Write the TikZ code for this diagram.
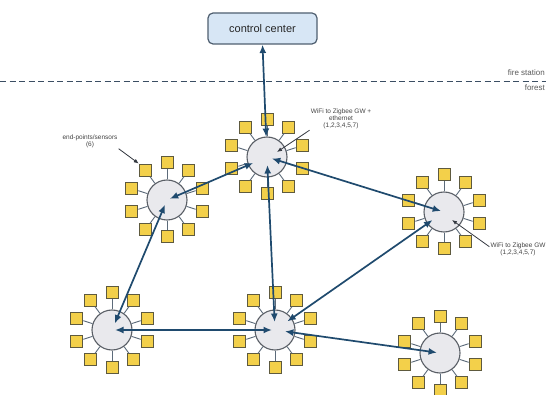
\documentclass[tikz,border=0pt]{standalone}
\usepackage{fontspec}
\setmainfont{Liberation Sans}
\usetikzlibrary{arrows.meta,calc}

\definecolor{linkblue}{HTML}{1F4A6E}
\definecolor{hubfill}{HTML}{E9E9ED}
\definecolor{hubedge}{HTML}{5A5F66}
\definecolor{sensorfill}{HTML}{F3D04A}
\definecolor{sensoredge}{HTML}{5E5A3E}
\definecolor{stemcolor}{HTML}{5C6B7A}
\definecolor{ccfill}{HTML}{D7E6F5}
\definecolor{ccedge}{HTML}{4F5F70}
\definecolor{notecolor}{HTML}{444444}
\definecolor{pointercolor}{HTML}{333840}
\definecolor{zonecolor}{HTML}{5A5A5A}
\definecolor{boundarycolor}{HTML}{3B4E63}

\begin{document}
\begin{tikzpicture}[x=1pt,y=-1pt,
  hub/.style={circle, draw=hubedge, fill=hubfill, line width=1.1pt,
    minimum size=40pt, inner sep=0pt},
  sensor/.style={rectangle, draw=sensoredge, fill=sensorfill, line width=1pt,
    minimum size=12pt, inner sep=0pt},
  sensorlink/.style={draw=stemcolor, line width=0.9pt},
  backbone/.style={draw=linkblue, line width=1.7pt,
    {Latex[length=8.5pt,width=7pt]}-{Latex[length=8.5pt,width=7pt]}},
  ccbox/.style={rectangle, rounded corners=5pt, draw=ccedge, fill=ccfill,
    line width=1.2pt, minimum width=109pt, minimum height=31pt,
    font=\fontsize{11}{13}\selectfont, text=black!85},
  note/.style={font=\fontsize{6.5}{7}\selectfont, text=notecolor,
    align=center, inner sep=1pt},
  zone/.style={font=\fontsize{8}{9}\selectfont, text=zonecolor, inner sep=0pt},
  pointer/.style={draw=pointercolor, line width=0.8pt,
    -{Latex[length=5pt,width=4pt]}},
  boundary/.style={draw=boundarycolor, line width=1pt,
    dash pattern=on 6pt off 3.5pt},
]
% canvas
\fill[white] (0,0) rectangle (546,395);
\useasboundingbox (0,0) rectangle (546,395);

% fire station / forest boundary
\coordinate (bl) at (0,82);
\coordinate (br) at (546,82);
\draw[boundary] (bl) -- (br);
\node[zone, anchor=base east] (fire) at (545,76) {fire station};
\node[zone, anchor=base east] (forest) at (545,91) {forest};

% control center
\node[ccbox] (cc) at (262.5,28.5) {control center};

% gateway hubs
\node[hub] (h1) at (167,200) {};
\node[hub] (h2) at (267,157) {};
\node[hub] (h3) at (444,212) {};
\node[hub] (h4) at (112,330) {};
\node[hub] (h5) at (275,330) {};
\node[hub] (h6) at (440,353) {};

% ten end-point sensors around every hub
\foreach \h in {h1,h2,h3,h4,h5,h6} {
  \foreach \k in {0,...,9} {
    \pgfmathsetmacro\a{18+36*\k}
    \node[sensor] (\h-s\k) at ([shift={(\a:37pt)}]\h.center) {};
    \draw[sensorlink] (\h) -- (\h-s\k);
  }
}

% backbone links
\draw[backbone, shorten >=20pt] (cc.south) -- (h2.center);
\draw[backbone, shorten <=3pt, shorten >=15pt] (h1.center) -- (h2.center);
\draw[backbone, shorten <=5pt, shorten >=7pt] (h1.center) -- (h4.center);
\draw[backbone, shorten <=8pt, shorten >=8pt] (h2.center) -- (h5.center);
\draw[backbone, shorten <=5pt, shorten >=3pt] (h2.center) -- (h3.center);
\draw[backbone, shorten <=3pt, shorten >=3pt] (h4.center) -- (h5.center);
\draw[backbone, shorten <=15pt, shorten >=14pt] (h5.center) -- (h3.center);
\draw[backbone, shorten <=10pt, shorten >=3pt] (h5.center) -- (h6.center);

% annotations
\node[note] (lbl1) at (90,141) {end-points/sensors\\(6)};
\draw[pointer] (lbl1.south east) -- (h1-s3.north west);

\node[note] (lbl2) at (341,119) {WiFi to Zigbee GW +\\ethernet\\(1,2,3,4,5,7)};
\coordinate (gw2) at (277,152);
\draw[pointer] (lbl2.south west) -- (gw2);

\node[note] (lbl3) at (518,249) {WiFi to Zigbee GW\\(1,2,3,4,5,7)};
\coordinate (gw3) at (452,220);
\draw[pointer] ($(lbl3.north west)!0.35!(lbl3.south west)$) -- (gw3);
\end{tikzpicture}
\end{document}
